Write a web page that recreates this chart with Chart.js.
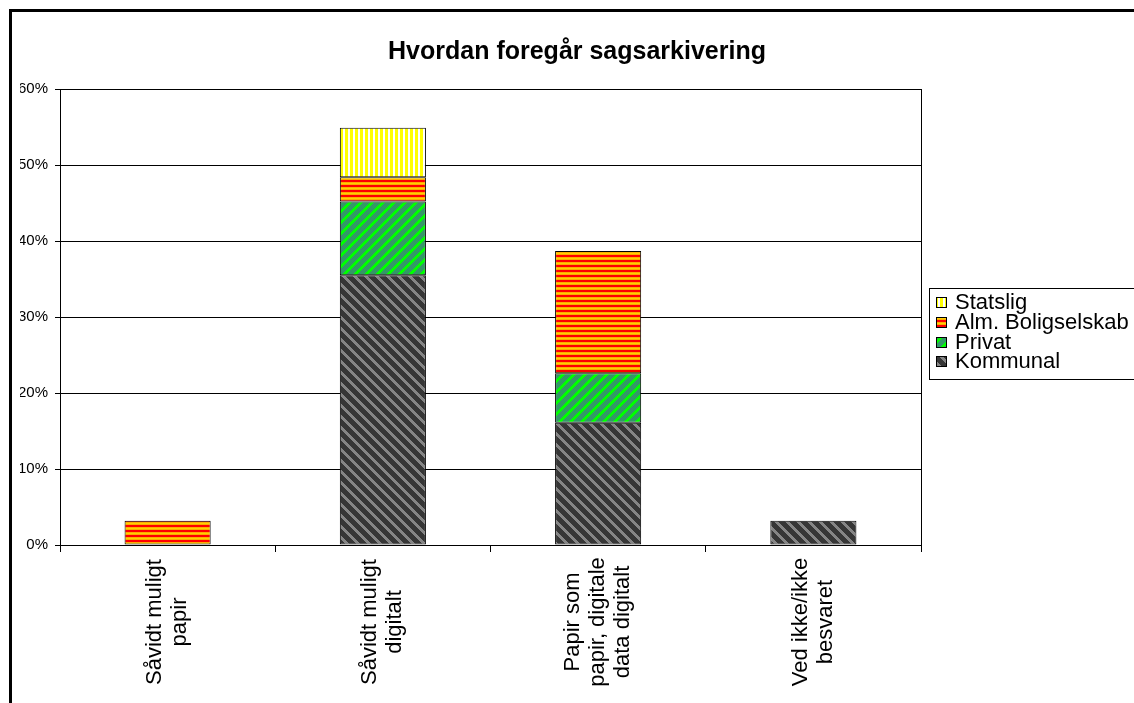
<!DOCTYPE html>
<html>
<head>
<meta charset="utf-8">
<script src="https://cdn.jsdelivr.net/npm/chart.js@4.4.0/dist/chart.umd.min.js"></script>
<style>
  html, body { margin: 0; padding: 0; background: #fff; }
  #wrap { width: 1134px; height: 703px; }
</style>
</head>
<body>
<div id="wrap"><canvas id="chart" width="1134" height="703"></canvas></div>
<script>
// data (percent of respondents)
const categories = [
  ['Såvidt muligt', 'papir'],
  ['Såvidt muligt', 'digitalt'],
  ['Papir som', 'papir, digitale', 'data digitalt'],
  ['Ved ikke/ikke', 'besvaret']
];
const seriesNames = ['Kommunal', 'Privat', 'Alm. Boligselskab', 'Statslig'];
const kommunal = [0, 35.5, 16.1, 3.2];
const privat = [0, 9.7, 6.5, 0];
const almBoligselskab = [3.2, 3.2, 16.1, 0];
const statslig = [0, 6.5, 0, 0];
const yTicks = [0, 10, 20, 30, 40, 50, 60];
const chartTitle = 'Hvordan foregår sagsarkivering';

const FONT = "'Liberation Sans', Arial, sans-serif";
const canvas = document.getElementById('chart');
const ctx = canvas.getContext('2d');

// little tile -> repeating pattern, like the old excel fills
function makePattern(w, h, colorAt) {
  const tile = document.createElement('canvas');
  tile.width = w;
  tile.height = h;
  const tc = tile.getContext('2d');
  for (let y = 0; y < h; y++) {
    for (let x = 0; x < w; x++) {
      tc.fillStyle = colorAt(x, y);
      tc.fillRect(x, y, 1, 1);
    }
  }
  return ctx.createPattern(tile, 'repeat');
}

const fills = [
  makePattern(11, 11, (x, y) => (((x - y) % 11) + 11) % 11 < 4 ? '#858585' : '#363636'),
  makePattern(11, 11, (x, y) => (x + y) % 11 < 4 ? '#00ff00' : '#339966'),
  makePattern(10, 10, (x, y) => y % 5 < 2 ? '#ff0000' : (y % 5 === 3 ? '#ffd000' : '#ffaa00')),
  makePattern(10, 10, (x, y) => x % 5 < 3 ? '#ffff00' : '#ffffff')
];
const seriesData = [kommunal, privat, almBoligselskab, statslig];

const extras = {
  id: 'extras',
  afterDraw(chart) {
    const c = chart.ctx;
    const xs = chart.scales.x;
    c.save();
    // outer frame (clipped on right and bottom in the original)
    c.strokeStyle = '#000';
    c.lineWidth = 3;
    c.beginPath();
    c.moveTo(10.5, 720);
    c.lineTo(10.5, 10.5);
    c.lineTo(1150, 10.5);
    c.stroke();

    // rotated, centred category labels
    c.fillStyle = '#000';
    c.font = '22px ' + FONT;
    c.textAlign = 'center';
    c.textBaseline = 'middle';
    categories.forEach((lines, i) => {
      const x = xs.getPixelForTick(i);
      c.save();
      c.translate(x, 622);
      c.rotate(-Math.PI / 2);
      lines.forEach((t, j) => c.fillText(t, 0, (j - (lines.length - 1) / 2) * 25));
      c.restore();
    });

    // legend box
    c.lineWidth = 1;
    c.strokeStyle = '#000';
    c.strokeRect(929.5, 288.5, 300, 91);
    c.font = '22px ' + FONT;
    c.textAlign = 'left';
    c.textBaseline = 'alphabetic';
    const ds = chart.data.datasets.slice().reverse();
    ds.forEach((d, k) => {
      const cy = 302 + k * 19.8;
      c.fillStyle = d.backgroundColor;
      c.fillRect(936.5, Math.round(cy - 5) + 0.5, 10, 10);
      c.strokeRect(936.5, Math.round(cy - 5) + 0.5, 10, 10);
      c.fillStyle = '#000';
      c.fillText(d.label, 955, cy + 7);
    });
    c.restore();
  }
};

new Chart(ctx, {
  type: 'bar',
  data: {
    labels: categories,
    datasets: seriesNames.map((name, i) => ({
      label: name,
      data: seriesData[i],
      backgroundColor: fills[i],
      borderColor: '#000',
      borderWidth: 1,
      borderSkipped: false,
      categoryPercentage: 0.4,
      barPercentage: 1
    }))
  },
  options: {
    responsive: false,
    animation: false,
    layout: { padding: { left: 20, right: 0, top: 0, bottom: 0 } },
    plugins: {
      legend: { display: false },
      tooltip: { enabled: false },
      title: {
        display: true,
        text: chartTitle,
        color: '#000',
        font: { family: FONT, size: 25, weight: 'bold' },
        padding: { top: 37, bottom: 22 }
      }
    },
    scales: {
      x: {
        stacked: true,
        offset: true,
        grid: { offset: true, drawOnChartArea: false, drawTicks: true, tickLength: 7, color: '#000' },
        border: { display: true, color: '#000' },
        ticks: { display: false },
        afterFit: (s) => { s.height = 158; }
      },
      y: {
        stacked: true,
        min: 0,
        max: 60,
        afterBuildTicks: (s) => { s.ticks = yTicks.map(v => ({ value: v })); },
        ticks: {
          color: '#000',
          padding: 7,
          font: { family: FONT, size: 15 },
          callback: (v) => v + '%'
        },
        grid: { color: '#000', lineWidth: 1, tickLength: 5 },
        border: { display: true, color: '#000' },
        afterFit: (s) => { s.width = 40; }
      },
      y2: {
        type: 'linear',
        position: 'right',
        min: 0,
        max: 60,
        grid: { drawOnChartArea: false, drawTicks: false },
        ticks: { display: false },
        border: { display: true, color: '#000' },
        afterFit: (s) => { s.width = 213; }
      }
    }
  },
  plugins: [extras]
});
</script>
</body>
</html>
